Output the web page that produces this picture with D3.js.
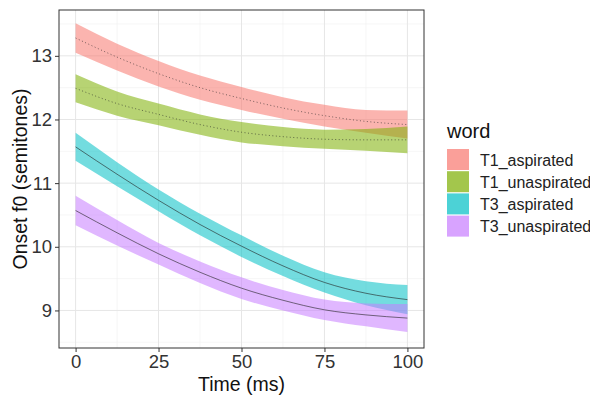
<!DOCTYPE html>
<html>
<head>
<meta charset="utf-8">
<script src="https://cdn.jsdelivr.net/npm/d3@7"></script>
<style>
  body { margin: 0; background: #fff; }
  text { font-family: "Liberation Sans", Arial, sans-serif; }
</style>
</head>
<body>
<div id="wrapper"></div>
<script>
// Data
const times = [0, 12.5, 25, 37.5, 50, 62.5, 75, 87.5, 100]
const wordNames = ["T1_aspirated", "T1_unaspirated", "T3_aspirated", "T3_unaspirated"]
const fitT1Asp = [13.28, 12.98, 12.72, 12.50, 12.33, 12.18, 12.06, 11.97, 11.92]
const seT1Asp = [0.23, 0.21, 0.20, 0.19, 0.18, 0.17, 0.17, 0.18, 0.22]
const fitT1Unasp = [12.49, 12.25, 12.08, 11.92, 11.80, 11.73, 11.69, 11.68, 11.68]
const seT1Unasp = [0.22, 0.19, 0.17, 0.16, 0.16, 0.15, 0.15, 0.17, 0.21]
const fitT3Asp = [11.57, 11.14, 10.73, 10.35, 10.01, 9.70, 9.44, 9.27, 9.17]
const seT3Asp = [0.22, 0.19, 0.17, 0.17, 0.17, 0.16, 0.16, 0.19, 0.23]
const fitT3Unasp = [10.57, 10.22, 9.89, 9.60, 9.35, 9.16, 9.01, 8.93, 8.88]
const seT3Unasp = [0.23, 0.20, 0.17, 0.17, 0.17, 0.16, 0.16, 0.18, 0.22]
const xTicks = [0, 25, 50, 75, 100]
const yTicks = [9, 10, 11, 12, 13]
const wordColors = ["#F8766D", "#7CAE00", "#00BFC4", "#C77CFF"]
const wordDashes = ["1,2.5", "1,2.5", null, null]

const fits = [fitT1Asp, fitT1Unasp, fitT3Asp, fitT3Unasp]
const ses = [seT1Asp, seT1Unasp, seT3Asp, seT3Unasp]
const series = wordNames.map((word, i) => ({
  word,
  color: wordColors[i],
  dash: wordDashes[i],
  values: times.map((t, j) => ({ time: t, fit: fits[i][j], se: ses[i][j] })),
}))

// Accessors
const timeAccessor = d => d.time
const fitAccessor = d => d.fit

// dimensions
const dimensions = {
  width: 590,
  height: 402,
  margin: { top: 10, right: 166, bottom: 54, left: 59 },
}
dimensions.boundedWidth = dimensions.width - dimensions.margin.left - dimensions.margin.right
dimensions.boundedHeight = dimensions.height - dimensions.margin.top - dimensions.margin.bottom

// canvas
const wrapper = d3.select("#wrapper")
  .append("svg")
    .attr("width", dimensions.width)
    .attr("height", dimensions.height)

const bounds = wrapper.append("g")
  .attr("transform", `translate(${dimensions.margin.left}, ${dimensions.margin.top})`)

// scales
const xScale = d3.scaleLinear()
  .domain([-5, 105])
  .range([0, dimensions.boundedWidth])

const yScale = d3.scaleLinear()
  .domain([8.41, 13.72])
  .range([dimensions.boundedHeight, 0])

// grid
const gridGroup = bounds.append("g")
const xMinor = xTicks.slice(0, -1).map((d, i) => (d + xTicks[i + 1]) / 2)
const yMinor = [8.5, ...yTicks.map(d => d + 0.5)]
gridGroup.selectAll(".x-minor")
  .data(xMinor)
  .enter().append("line")
    .attr("x1", xScale).attr("x2", xScale)
    .attr("y1", 0).attr("y2", dimensions.boundedHeight)
    .attr("stroke", "#F0F0F0").attr("stroke-width", 0.6)
gridGroup.selectAll(".y-minor")
  .data(yMinor)
  .enter().append("line")
    .attr("y1", yScale).attr("y2", yScale)
    .attr("x1", 0).attr("x2", dimensions.boundedWidth)
    .attr("stroke", "#F0F0F0").attr("stroke-width", 0.6)
gridGroup.selectAll(".x-major")
  .data(xTicks)
  .enter().append("line")
    .attr("x1", xScale).attr("x2", xScale)
    .attr("y1", 0).attr("y2", dimensions.boundedHeight)
    .attr("stroke", "#E6E6E6").attr("stroke-width", 1)
gridGroup.selectAll(".y-major")
  .data(yTicks)
  .enter().append("line")
    .attr("y1", yScale).attr("y2", yScale)
    .attr("x1", 0).attr("x2", dimensions.boundedWidth)
    .attr("stroke", "#E6E6E6").attr("stroke-width", 1)

// draw data
const areaGenerator = d3.area()
  .x(d => xScale(timeAccessor(d)))
  .y0(d => yScale(d.fit - d.se))
  .y1(d => yScale(d.fit + d.se))
  .curve(d3.curveMonotoneX)

const lineGenerator = d3.line()
  .x(d => xScale(timeAccessor(d)))
  .y(d => yScale(fitAccessor(d)))
  .curve(d3.curveMonotoneX)

bounds.append("g").selectAll(".ribbon")
  .data(series)
  .enter().append("path")
    .attr("class", "ribbon")
    .attr("d", d => areaGenerator(d.values))
    .attr("fill", d => d.color)
    .attr("fill-opacity", 0.55)

bounds.append("g").selectAll(".fit-line")
  .data(series)
  .enter().append("path")
    .attr("class", "fit-line")
    .attr("d", d => lineGenerator(d.values))
    .attr("fill", "none")
    .attr("stroke", "#222")
    .attr("stroke-opacity", 0.75)
    .attr("stroke-width", 0.8)
    .attr("stroke-dasharray", d => d.dash)

// axes
const xAxis = d3.axisBottom(xScale).tickValues(xTicks).tickSize(4).tickPadding(3)
const yAxis = d3.axisLeft(yScale).tickValues(yTicks).tickFormat(d3.format("d")).tickSize(4).tickPadding(3)

const xAxisGroup = bounds.append("g")
  .attr("transform", `translate(0, ${dimensions.boundedHeight})`)
  .call(xAxis)
const yAxisGroup = bounds.append("g").call(yAxis)

;[xAxisGroup, yAxisGroup].forEach(g => {
  g.select(".domain").remove()
  g.selectAll(".tick line").attr("stroke", "#333")
  g.selectAll(".tick text")
    .attr("fill", "#333")
    .style("font-size", "18.5px")
})

// panel border
bounds.append("rect")
  .attr("width", dimensions.boundedWidth)
  .attr("height", dimensions.boundedHeight)
  .attr("fill", "none")
  .attr("stroke", "#333")
  .attr("stroke-width", 1)

// axis titles
wrapper.append("text")
  .attr("x", dimensions.margin.left + dimensions.boundedWidth / 2)
  .attr("y", 391)
  .attr("text-anchor", "middle")
  .style("font-size", "19.5px")
  .attr("fill", "#111")
  .text("Time (ms)")

wrapper.append("text")
  .attr("transform", `translate(27, ${dimensions.margin.top + dimensions.boundedHeight / 2}) rotate(-90)`)
  .attr("text-anchor", "middle")
  .style("font-size", "19.5px")
  .attr("fill", "#111")
  .text("Onset f0 (semitones)")

// legend
const legendGroup = wrapper.append("g")
  .attr("transform", "translate(447, 138)")
legendGroup.append("text")
  .style("font-size", "20px")
  .attr("fill", "#111")
  .text("word")

const legendItems = legendGroup.selectAll(".legend-item")
  .data(series)
  .enter().append("g")
    .attr("class", "legend-item")
    .attr("transform", (d, i) => `translate(0, ${11 + i * 22.2})`)
legendItems.append("rect")
  .attr("width", 22)
  .attr("height", 21)
  .attr("fill", d => d.color)
  .attr("fill-opacity", 0.7)
legendItems.append("text")
  .attr("x", 33)
  .attr("y", 16.5)
  .style("font-size", "16px")
  .attr("fill", "#222")
  .text(d => d.word)
</script>
</body>
</html>
